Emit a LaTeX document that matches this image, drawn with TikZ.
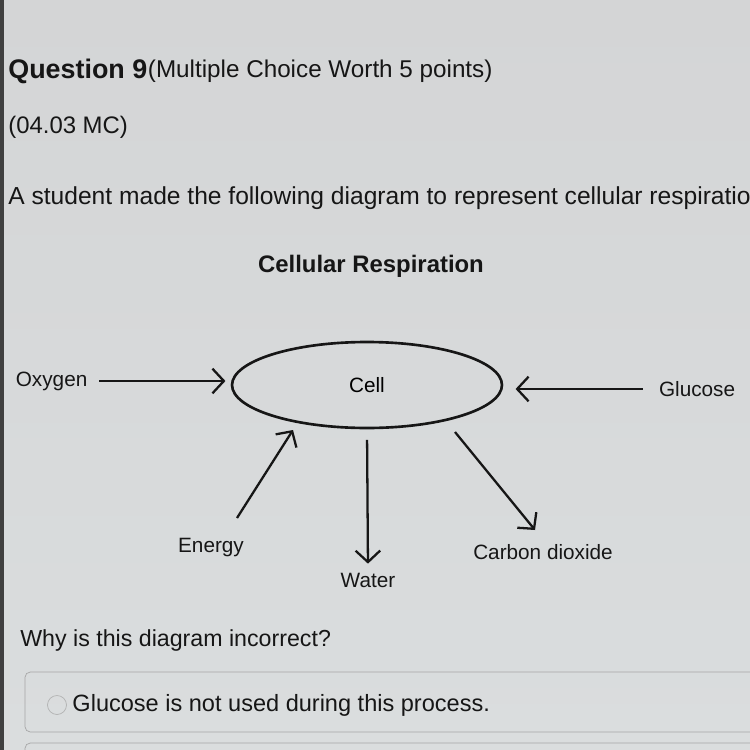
\documentclass[tikz,border=0pt]{standalone}
\usepackage{fontspec}
\setmainfont{Liberation Sans}
\usepackage{tikz}
\usetikzlibrary{positioning, shapes.geometric, arrows.meta}

\definecolor{bgtop}{RGB}{212,213,214}
\definecolor{bgmid}{RGB}{236,240,243}
\definecolor{bgbot}{RGB}{218,221,222}
\definecolor{ink}{RGB}{22,22,22}

\tikzset{
  lbl/.style={font=\fontsize{11.8}{14}\selectfont, text=ink, inner sep=2pt},
  head/.style={font=\fontsize{13.6}{16}\selectfont, text=ink, inner sep=0pt, anchor=west},
  flow/.style={line width=1.3pt, draw=ink, -{Straight Barb[length=6.5pt,width=14pt]}},
  cellnode/.style={draw=ink, ellipse, line width=1.5pt, minimum width=5.4cm, minimum height=1.72cm, font=\fontsize{11.8}{14}\selectfont}
}

\begin{document}
\begin{tikzpicture}[x=0.02cm, y=-0.02cm]
    % Screen background
    \useasboundingbox (0,0) rectangle (750,750);
    \clip (0,0) rectangle (750,750);
    \shade[top color=bgtop, middle color=bgmid, bottom color=bgbot] (0,0) rectangle (750,750);
    \fill[black!75] (0,0) rectangle (4,750);

    % Question header
    \node[head, font=\bfseries\fontsize{15.3}{18}\selectfont] (qnum) at (8,71) {Question 9};
    \node[head, font=\fontsize{13.8}{16}\selectfont, right=0pt of qnum] (worth) {(Multiple Choice Worth 5 points)};
    \node[head] (code) at (8,127) {(04.03 MC)};
    \node[head, font=\fontsize{14}{16}\selectfont] (prompt) at (8,198) {A student made the following diagram to represent cellular respiration.};

    % Diagram
    \node[font=\bfseries\fontsize{13.6}{16}\selectfont, text=ink] (title) at (371,266) {Cellular Respiration};
    \node[cellnode] (cell) at (367,385) {Cell};

    \node[lbl, anchor=west] (oxygen) at (12,381) {Oxygen};
    \node[lbl, anchor=east] (glucose) at (739,389) {Glucose};
    \node[lbl] (energy) at (211,548) {Energy};
    \node[lbl] (water) at (368,580) {Water};
    \node[lbl] (co2) at (543,552) {Carbon dioxide};

    % Arrows in and out of the cell
    \draw[flow, shorten <=4.5pt, shorten >=3pt] (oxygen.east) -- (oxygen.east -| cell.west);
    \draw[flow, shorten <=7pt, shorten >=7pt] (glucose.west) -- (glucose.west -| cell.east);
    \draw[flow] ([shift={(26,-30)}]energy.center) -- ([shift={(-74,45)}]cell.center);
    \draw[flow, shorten <=6pt, shorten >=3pt] (cell.south) -- (water.north);
    \draw[flow] ([shift={(88,47)}]cell.center) -- ([shift={(-8,-22)}]co2.center);

    % Question and answer choice
    \node[head, font=\fontsize{13.2}{16}\selectfont] (why) at (20,640) {Why is this diagram incorrect?};
    \draw[gray!70, rounded corners=3pt] (25,672) rectangle (770,732);
    \draw[gray!70, rounded corners=3pt] (25,743) rectangle (770,790);
    \node[draw=gray!60, circle, minimum size=0.38cm, inner sep=0pt] (radio) at (57,705) {};
    \node[head, font=\fontsize{13.4}{16}\selectfont, right=3pt of radio] (choice) {Glucose is not used during this process.};
\end{tikzpicture}
\end{document}
